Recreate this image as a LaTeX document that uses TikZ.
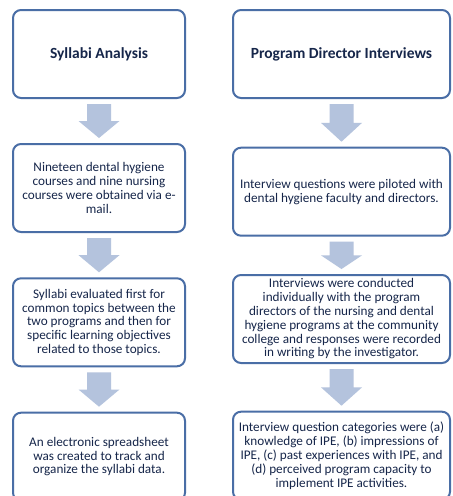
\documentclass[tikz,border=0pt]{standalone}
\usepackage{fontspec}
\setmainfont{Carlito}
\usetikzlibrary{calc}
\definecolor{boxline}{HTML}{4A6EA6}
\definecolor{arrowfill}{HTML}{B4C3DD}
\definecolor{boxtext}{HTML}{16264A}
\tikzset{
  stepbox/.style={draw=boxline, line width=2pt, rounded corners=8pt, fill=white,
    inner sep=0pt, align=center, text=boxtext,
    font=\fontsize{13.2}{13.8}\selectfont},
  leftbox/.style={stepbox, minimum width=172pt, minimum height=88pt},
  rightbox/.style={stepbox, minimum width=217pt, minimum height=88pt},
  titletext/.style={font=\fontsize{15.5}{17}\selectfont\bfseries},
  blockarrow/.style={fill=arrowfill, draw=none}
}
% downward block arrow between two stacked boxes
\newcommand{\flowarrow}[2]{%
  \path[blockarrow] let \p1=(#1.south), \p2=(#2.north),
    \n1={\y1-5pt}, \n2={\y2+5pt}, \n3={(\n1+\n2)/2} in
    (\x1-12pt,\n1) -- (\x1+12pt,\n1) -- (\x1+12pt,\n3) -- (\x1+20.5pt,\n3)
    -- (\x1,\n2) -- (\x1-20.5pt,\n3) -- (\x1-12pt,\n3) -- cycle;}
\begin{document}
\begin{tikzpicture}[x=1pt,y=1pt]
  \useasboundingbox (0,0) rectangle (453,-496);
  \clip (0,0) rectangle (453,-496);
  \fill[white] (0,0) rectangle (453,-496);

  % left column: syllabi analysis
  \node[leftbox, titletext] (s1) at (99,-54) {Syllabi Analysis};
  \node[leftbox] (s2) at (99,-188) {Nineteen dental hygiene\\courses and nine nursing\\courses were obtained via e-\\mail.};
  \node[leftbox] (s3) at (99,-322.3) {Syllabi evaluated first for\\common topics between the\\two programs and then for\\specific learning objectives\\related to those topics.};
  \node[leftbox] (s4) at (99,-456.7) {An electronic spreadsheet\\was created to track and\\organize the syllabi data.};

  % right column: program director interviews
  \node[rightbox, titletext] (p1) at (341.5,-54) {Program Director Interviews};
  \node[rightbox] (p2) at (341.5,-191.7) {Interview questions were piloted with\\dental hygiene faculty and directors.};
  \node[rightbox] (p3) at (341.5,-319) {Interviews were conducted\\individually with the program\\directors of the nursing and dental\\hygiene programs at the community\\college and responses were recorded\\in writing by the investigator.};
  \node[rightbox] (p4) at (341.5,-455.7) {Interview question categories were (a)\\knowledge of IPE, (b) impressions of\\IPE, (c) past experiences with IPE, and\\(d) perceived program capacity to\\implement IPE activities.};

  \flowarrow{s1}{s2}
  \flowarrow{s2}{s3}
  \flowarrow{s3}{s4}
  \flowarrow{p1}{p2}
  \flowarrow{p2}{p3}
  \flowarrow{p3}{p4}
\end{tikzpicture}
\end{document}
